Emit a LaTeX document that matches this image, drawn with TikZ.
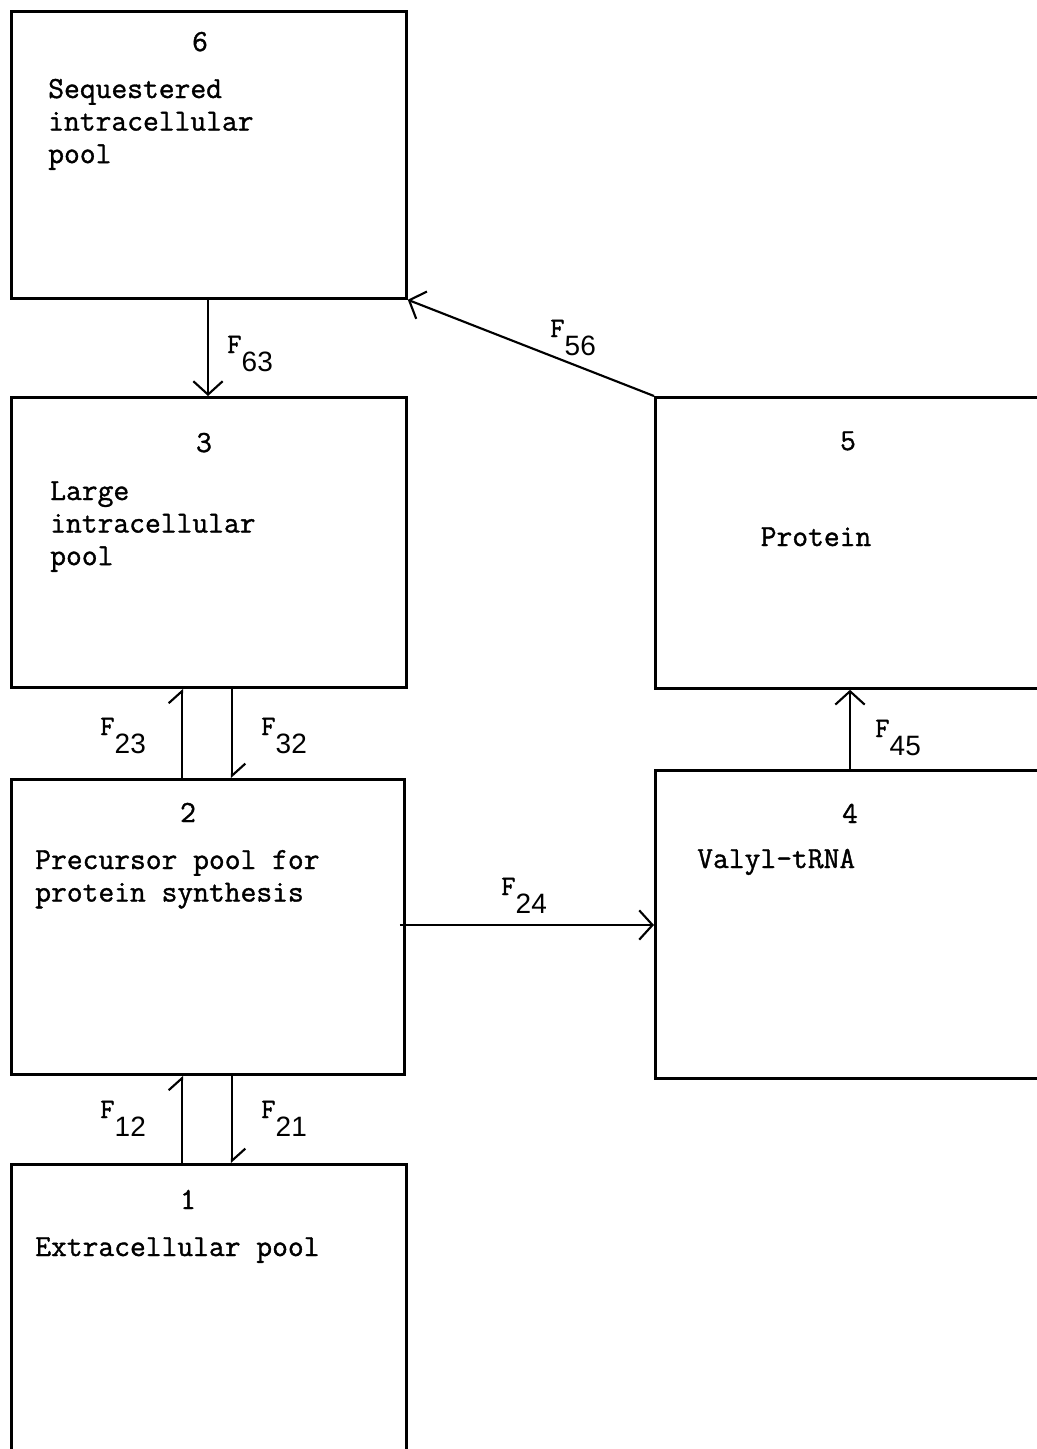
\documentclass[tikz,border=0pt]{standalone}
\usepackage{fontspec}
\newfontfamily\subfont{Liberation Sans}
\newfontfamily\twfont{Latin Modern Mono}[FakeBold=1.2]
\usetikzlibrary{arrows.meta,calc}
\newcommand\txtfont{\twfont\fontsize{23}{24.4}\selectfont}
\newcommand\ffont{\twfont\fontsize{21}{22}\selectfont}
\newcommand\sfont{\subfont\fontsize{21}{24}\selectfont}
\newcommand\flab[1]{{\ffont F}\lower13.5pt\hbox{\sfont #1}}
\begin{document}
\begin{tikzpicture}[x=0.75pt,y=-0.75pt,
  box/.style={draw, line width=2.1pt, rectangle, anchor=north west, inner sep=0pt},
  txt/.style={font=\txtfont, inner sep=0pt},
  lab/.style={inner sep=0pt, anchor=base west},
  arr/.style={line width=1.6pt, -{Straight Barb[length=10pt,width=22pt,line width=1.6pt]}},
  harp/.style={line width=1.6pt, -{Straight Barb[harpoon,length=9pt,width=20pt,line width=1.6pt]}}]
\useasboundingbox (0,0) rectangle (1037,1449);
\clip (0,0) rectangle (1037,1449);
% boxes
\node[box, minimum width=395*0.75pt, minimum height=287*0.75pt] (b6) at (10,10) {};
\node[box, minimum width=395*0.75pt, minimum height=290*0.75pt] (b3) at (10,396) {};
\node[box, minimum width=393*0.75pt, minimum height=295*0.75pt] (b2) at (10,778) {};
\node[box, minimum width=395*0.75pt, minimum height=400*0.75pt] (b1) at (10,1163) {};
\node[box, minimum width=450*0.75pt, minimum height=291*0.75pt] (b5) at (654,396) {};
\node[box, minimum width=450*0.75pt, minimum height=308*0.75pt] (b4) at (654,769) {};
% numbers
\node[txt, anchor=base] (n6) at (200,51) {6};
\node[txt, anchor=base] (n3) at (204,452) {3};
\node[txt, anchor=base] (n5) at (848,450) {5};
\node[txt, anchor=base] (n2) at (188,822) {2};
\node[txt, anchor=base] (n4) at (850,823) {4};
\node[txt, anchor=base] (n1) at (188,1209) {1};
% texts
\node[txt, anchor=base west] (t6) at (48,98) {\begin{tabular}[t]{@{}l@{}}Sequestered\\intracellular\\pool\end{tabular}};
\node[txt, anchor=base west] (t3) at (50,500) {\begin{tabular}[t]{@{}l@{}}Large\\intracellular\\pool\end{tabular}};
\node[txt, anchor=base] (t5) at (816,546) {Protein};
\node[txt, anchor=base west] (t2) at (35,869) {\begin{tabular}[t]{@{}l@{}}Precursor pool for\\protein synthesis\end{tabular}};
\node[txt, anchor=base west] (t4) at (697,868) {Valyl-tRNA};
\node[txt, anchor=base west] (t1) at (35,1256) {Extracellular pool};
% connectors
\draw[arr] ($(b6.south west)+(198,0)$) -- ($(b3.north west)+(198,0)$);
\draw[arr] (b5.north west) -- (b6.south east);
\draw[harp] ($(b2.north west)+(172,0)$) -- ($(b3.south west)+(172,0)$);
\draw[harp] ($(b3.south west)+(222,0)$) -- ($(b2.north west)+(222,0)$);
\draw[harp] ($(b1.north west)+(172,0)$) -- ($(b2.south west)+(172,0)$);
\draw[harp] ($(b2.south west)+(222,0)$) -- ($(b1.north west)+(222,0)$);
\draw[arr] ($(b4.north west)+(196,0)$) -- ($(b5.south west)+(196,0)$);
\coordinate (f24s) at ($(b2.north east)+(-6,147)$);
\draw[arr] (f24s) -- (f24s -| b4.west);
% flow labels
\node[lab] (l63) at (227,353) {\flab{63}};
\node[lab] (l56) at (550,337) {\flab{56}};
\node[lab] (l23) at (100,735) {\flab{23}};
\node[lab] (l32) at (261,735) {\flab{32}};
\node[lab] (l45) at (875,737) {\flab{45}};
\node[lab] (l24) at (501,895) {\flab{24}};
\node[lab] (l12) at (100,1118) {\flab{12}};
\node[lab] (l21) at (261,1118) {\flab{21}};
\end{tikzpicture}
\end{document}
